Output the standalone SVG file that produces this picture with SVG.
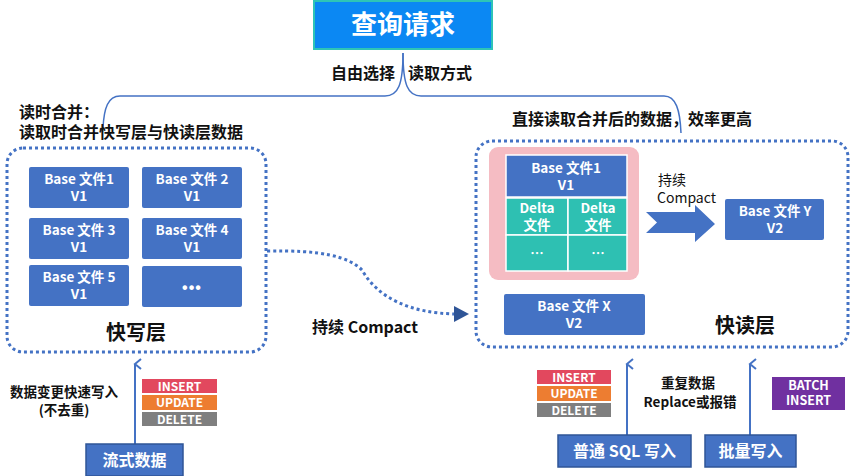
<svg xmlns="http://www.w3.org/2000/svg" width="850" height="476" viewBox="0 0 850 476">
<defs>
<style>
text{font-family:"Noto Sans CJK SC","Noto Sans",sans-serif;}
.blk{fill:#4472c4;}
.blkb{fill:#4472c4;stroke:#2f5597;stroke-width:1.5;}
.wt{fill:#fff;font-size:13.5px;font-weight:bold;text-anchor:middle;}
.lbl{fill:#111;font-size:16px;font-weight:bold;}
.dot{fill:none;stroke:#4472c4;stroke-width:3;stroke-dasharray:3 3;}
.brace{fill:none;stroke:#4472c4;stroke-width:1.5;}
.up{fill:none;stroke:#4472c4;stroke-width:2;}
.delta{fill:#2ec0b2;stroke:#fff;stroke-width:1.5;}
.tag{font-size:12px;font-weight:bold;fill:#fff;text-anchor:middle;}
</style>
<marker id="open" viewBox="0 0 12 12" refX="6" refY="2" markerWidth="12" markerHeight="12" markerUnits="userSpaceOnUse" orient="auto-start-reverse">
<path d="M1,8 L6,2 L11,8" fill="none" stroke="#4472c4" stroke-width="2"/>
</marker>
</defs>

<g id="query">
<rect x="314" y="1" width="178" height="48" fill="#0b88f3" stroke="#2ec4b6" stroke-width="2"/>
<text x="403" y="34" style="fill:#fff;font-size:26px;font-weight:bold;text-anchor:middle">查询请求</text>
</g>

<g id="connectors">
<path class="brace" d="M403,53 C403,85 398,96 385,96 L120,96 C108,96 104,108 103,128"/>
<path class="brace" d="M403,53 C403,85 408,96 421,96 L664,96 C676,96 680,110 681,133"/>
<path class="dot" d="M267,251 C320,250 348,256 362,270 C378,298 410,313 455,314"/>
<polygon points="454,306 469,314 454,322" fill="#2f5597"/>
<line class="up" x1="135" y1="444" x2="135" y2="364" marker-end="url(#open)"/>
<line class="up" x1="627" y1="435" x2="627" y2="364" marker-end="url(#open)"/>
<line class="up" x1="750" y1="435" x2="750" y2="364" marker-end="url(#open)"/>
<polygon points="646,212 695,212 695,205 715,224 695,242 695,233 646,233 657,222.5" fill="#4472c4"/>
</g>

<g id="labels">
<text class="lbl" x="395" y="79" text-anchor="end">自由选择</text>
<text class="lbl" x="408" y="79">读取方式</text>
<text class="lbl" x="19" y="118">读时合并：</text>
<text class="lbl" x="19" y="138">读取时合并快写层与快读层数据</text>
<text class="lbl" x="512" y="125">直接读取合并后的数据，效率更高</text>
<text class="lbl" x="312" y="333">持续  Compact</text>
<text x="658" y="185" style="fill:#111;font-size:14px">持续</text>
<text x="657" y="203" style="fill:#111;font-size:14px">Compact</text>
<text x="64" y="397" style="fill:#111;font-size:13.5px;font-weight:bold;text-anchor:middle">数据变更快速写入</text>
<text x="64" y="415" style="fill:#111;font-size:13.5px;font-weight:bold;text-anchor:middle">(不去重)</text>
<text x="688" y="388" style="fill:#111;font-size:13.5px;font-weight:bold;text-anchor:middle">重复数据</text>
<text x="690" y="407" style="fill:#111;font-size:13.5px;font-weight:bold;text-anchor:middle">Replace或报错</text>
</g>

<g id="fast-write-layer">
<rect class="dot" x="7" y="148" width="259" height="204" rx="16"/>
<text x="136" y="340" style="fill:#111;font-size:20px;font-weight:bold;text-anchor:middle">快写层</text>
</g>
<g id="wbase1"><rect class="blk" x="29" y="167" width="100" height="41" rx="2"/><text class="wt" x="79" y="184">Base 文件1</text><text class="wt" x="79" y="201">V1</text></g>
<g id="wbase2"><rect class="blk" x="142" y="167" width="100" height="41" rx="2"/><text class="wt" x="192" y="184">Base 文件 2</text><text class="wt" x="192" y="201">V1</text></g>
<g id="wbase3"><rect class="blk" x="29" y="218" width="100" height="41" rx="2"/><text class="wt" x="79" y="235">Base 文件 3</text><text class="wt" x="79" y="252">V1</text></g>
<g id="wbase4"><rect class="blk" x="142" y="218" width="100" height="41" rx="2"/><text class="wt" x="192" y="235">Base 文件 4</text><text class="wt" x="192" y="252">V1</text></g>
<g id="wbase5"><rect class="blk" x="29" y="265" width="100" height="41" rx="2"/><text class="wt" x="79" y="282">Base 文件 5</text><text class="wt" x="79" y="299">V1</text></g>
<g id="wmore"><rect class="blk" x="142" y="266" width="100" height="41" rx="2"/><text class="wt" x="192" y="293" style="font-family:'Liberation Sans',sans-serif;font-size:16px;letter-spacing:1px">•••</text></g>

<g id="fast-read-layer">
<rect class="dot" x="476" y="141" width="372" height="206" rx="16"/>
<text x="745" y="333" style="fill:#111;font-size:20px;font-weight:bold;text-anchor:middle">快读层</text>
</g>
<g id="merge-group">
<rect x="489" y="147" width="150" height="133" rx="9" fill="#f5bcc3"/>
<rect class="blk" x="506" y="155" width="121" height="42" stroke="#fff" stroke-width="1.5"/>
<text class="wt" x="566" y="173">Base 文件1</text><text class="wt" x="566" y="190">V1</text>
<rect class="delta" x="506" y="198" width="62" height="37"/>
<rect class="delta" x="568" y="198" width="59" height="37"/>
<rect class="delta" x="506" y="235" width="62" height="36"/>
<rect class="delta" x="568" y="235" width="59" height="36"/>
<text class="wt" x="537" y="213">Delta</text><text class="wt" x="537" y="230">文件</text>
<text class="wt" x="598" y="213">Delta</text><text class="wt" x="598" y="230">文件</text>
<text class="wt" x="537" y="258">…</text><text class="wt" x="598" y="258">…</text>
</g>
<g id="rbaseY"><rect class="blk" x="725" y="199" width="99" height="41" rx="2"/><text class="wt" x="775" y="216">Base 文件 Y</text><text class="wt" x="775" y="233">V2</text></g>
<g id="rbaseX"><rect class="blk" x="504" y="294" width="141" height="41" rx="2"/><text class="wt" x="574" y="311">Base 文件 X</text><text class="wt" x="574" y="328">V2</text></g>

<g id="tags-left">
<rect x="142" y="379" width="75" height="14" fill="#e2485e"/><text class="tag" x="179.5" y="390.5">INSERT</text>
<rect x="142" y="395" width="75" height="15" fill="#ed7d31"/><text class="tag" x="179.5" y="407">UPDATE</text>
<rect x="142" y="412" width="75" height="14" fill="#7f7f7f"/><text class="tag" x="179.5" y="423.5">DELETE</text>
</g>
<g id="tags-right">
<rect x="537" y="370" width="74" height="14" fill="#e2485e"/><text class="tag" x="574" y="381.5">INSERT</text>
<rect x="537" y="386" width="74" height="15" fill="#ed7d31"/><text class="tag" x="574" y="398">UPDATE</text>
<rect x="537" y="403" width="74" height="14" fill="#7f7f7f"/><text class="tag" x="574" y="414.5">DELETE</text>
</g>
<g id="batch-insert">
<rect x="772" y="377" width="73" height="33" fill="#7030a0"/>
<text class="tag" x="808.5" y="390" style="font-size:12.5px">BATCH</text>
<text class="tag" x="808.5" y="405" style="font-size:12.5px">INSERT</text>
</g>

<g id="stream"><rect class="blkb" x="86" y="444" width="97" height="32"/><text x="134.5" y="466" style="fill:#fff;font-size:16px;font-weight:bold;text-anchor:middle">流式数据</text></g>
<g id="sql-write"><rect class="blkb" x="558" y="435" width="133" height="32"/><text x="624.5" y="457" style="fill:#fff;font-size:16px;font-weight:bold;text-anchor:middle">普通 SQL 写入</text></g>
<g id="bulk-write"><rect class="blkb" x="705" y="435" width="91" height="32"/><text x="750.5" y="457" style="fill:#fff;font-size:16px;font-weight:bold;text-anchor:middle">批量写入</text></g>
</svg>
